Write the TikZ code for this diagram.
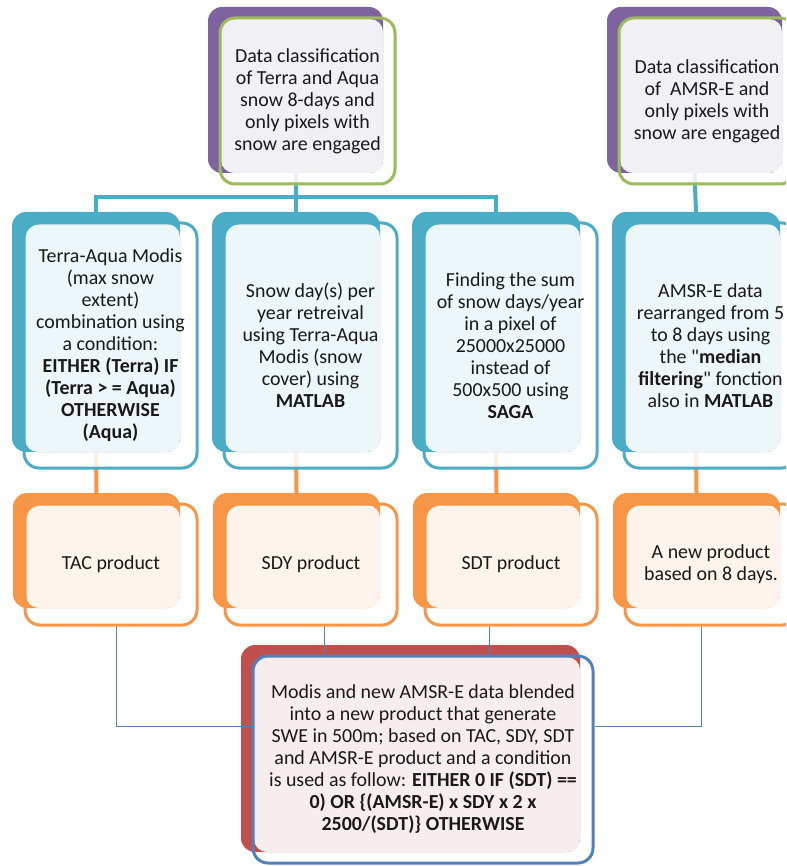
\documentclass[tikz,border=0pt]{standalone}
\usepackage{fontspec}
\setmainfont{Carlito}[Ligatures=TeXOff]
\usetikzlibrary{calc}
\pgfdeclarelayer{bottom}
\pgfdeclarelayer{background}
\pgfsetlayers{bottom,background,main}
\definecolor{Pback}{HTML}{7F63A1}
\definecolor{Pline}{HTML}{9BBB59}
\definecolor{Ppale}{HTML}{F1F0F5}
\definecolor{Bback}{HTML}{4BACC6}
\definecolor{Bline}{HTML}{4BACC6}
\definecolor{Bpale}{HTML}{EDF6F9}
\definecolor{Oback}{HTML}{F79646}
\definecolor{Oline}{HTML}{F79646}
\definecolor{Opale}{HTML}{FEF4EC}
\definecolor{Rback}{HTML}{C0504D}
\definecolor{Rline}{HTML}{4F81BD}
\definecolor{Rpale}{HTML}{F7EDED}
\definecolor{thinblue}{HTML}{4F81BD}
\tikzset{
  backbox/.style={draw=none, rounded corners=14pt, inner sep=0pt, outer sep=0pt},
  frontbox/.style={line width=3pt, rounded corners=15pt, inner sep=0pt, align=center,
    font=\fontsize{19.9}{22}\selectfont, text=black!90},
  thickc/.style={line width=4pt},
  thinc/.style={draw=thinblue, line width=0.8pt}
}
\newcommand\mycard[9]{%
 \pgfmathsetmacro\bx{(#3+#5)/2}\pgfmathsetmacro\by{(#4+#6)/2}%
 \pgfmathsetmacro\bw{#5-#3}\pgfmathsetmacro\bh{#6-#4}%
 \pgfmathsetmacro\oxa{#3+12}\pgfmathsetmacro\oya{#4+11}%
 \pgfmathsetmacro\ox{(\oxa+#7)/2}\pgfmathsetmacro\oy{(\oya+#8)/2}%
 \pgfmathsetmacro\ow{#7-\oxa}\pgfmathsetmacro\oh{#8-\oya}%
 \fill[white, opacity=.85, rounded corners=15pt] (\oxa,\oya) rectangle (#7,#8);
 \node[backbox, fill=#2back, minimum width=\bw pt, minimum height=\bh pt] (b#1) at (\bx,\by) {};
 \fill[#2pale, rounded corners=13pt] (\oxa+1,\oya+1) rectangle (#5,#6);
 \node[frontbox, draw=#2line, minimum width=\ow pt, minimum height=\oh pt] (f#1) at (\ox,\oy) {#9};
}
\begin{document}
\begin{tikzpicture}[x=1pt,y=-1pt]
\begin{pgfonlayer}{bottom}
\fill[white] (0,0) rectangle (786,866);
\end{pgfonlayer}
\useasboundingbox (0,0) rectangle (786,866);
\clip (0,0) rectangle (786,866);

\mycard{P1}{P}{208}{7}{383}{173}{395}{184}{Data classification\\of Terra and Aqua\\snow 8-days and\\only pixels with\\snow are engaged}
\mycard{P2}{P}{607}{7}{782}{173}{795}{184}{Data classification\\of\ \ AMSR-E and\\only pixels with\\snow are engaged}

\mycard{B1}{B}{12}{212}{180}{452}{197}{468}{Terra-Aqua Modis\\(max snow\\extent)\\combination using\\a condition:\\\textbf{EITHER (Terra) IF}\\\textbf{(Terra > = Aqua)}\\\textbf{OTHERWISE}\\\textbf{(Aqua)}}
\mycard{B2}{B}{212}{212}{380}{452}{397}{468}{Snow day(s) per\\year retreival\\using Terra-Aqua\\Modis (snow\\cover) using\\\textbf{MATLAB}}
\mycard{B3}{B}{412}{212}{580}{452}{597}{468}{Finding the sum\\of snow days/year\\in a pixel of\\25000x25000\\instead of\\500x500 using\\\textbf{SAGA}}
\mycard{B4}{B}{612}{212}{780}{452}{797}{468}{AMSR-E data\\rearranged from 5\\to 8 days using\\the "\textbf{median}\\\textbf{filtering}" fonction\\also in \textbf{MATLAB}}

\mycard{O1}{O}{13}{493}{180}{608}{197}{625}{TAC product}
\mycard{O2}{O}{213}{493}{380}{608}{397}{625}{SDY product}
\mycard{O3}{O}{413}{493}{580}{608}{597}{625}{SDT product}
\mycard{O4}{O}{613}{493}{780}{608}{797}{625}{A new product\\based on 8 days.}

\mycard{R}{R}{241}{645}{580}{852}{593}{863}{Modis and new AMSR-E data blended\\into a new product that generate\\SWE in 500m; based on TAC, SDY, SDT\\and AMSR-E product and a condition\\is used as follow: \textbf{EITHER 0 IF (SDT) ==}\\\textbf{0) OR \{(AMSR-E) x SDY x 2 x}\\\textbf{2500/(SDT)\} OTHERWISE}}

\begin{pgfonlayer}{background}
\coordinate (hub) at ($(bP1.south)+(0,-24pt)$);
\draw[thickc, Bline] (bP1.south) -- (hub);
\draw[thickc, Bline] (bB1.north) |- (hub) -| (bB3.north);
\draw[thickc, Bline] (bB2.north) -- (bB2.north |- hub);
\draw[thickc, Bline] (bP2.south) -- (bB4.north);
\foreach \k in {1,2,3,4}{\draw[thickc, Oline] (bB\k.south) -- (bO\k.north);}
\end{pgfonlayer}

\draw[thinc] ([xshift=5pt]fO1.south) |- ([yshift=33pt]fR.west);
\draw[thinc] ([xshift=13pt]fO2.south) -- ([xshift=13pt]fO2.south |- fR.north);
\draw[thinc] ([xshift=-22pt]fO3.south) -- ([xshift=-22pt]fO3.south |- fR.north);
\draw[thinc] ([xshift=-10pt]fO4.south) |- ([yshift=33pt]fR.east);
\end{tikzpicture}
\end{document}
